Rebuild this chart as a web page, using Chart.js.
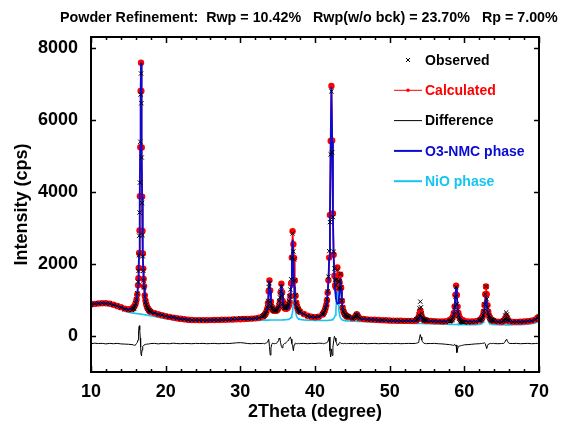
<!DOCTYPE html>
<html>
<head>
<meta charset="utf-8">
<script src="https://cdn.jsdelivr.net/npm/chart.js@4.4.0/dist/chart.umd.min.js"></script>
<style>
  html, body { margin: 0; padding: 0; background: #fff; }
  #wrap { width: 561px; height: 430px; }
</style>
</head>
<body>
<div id="wrap"><canvas id="xrdChart" width="561" height="430"></canvas></div>
<script>
const titleText = 'Powder Refinement:  Rwp = 10.42%   Rwp(w/o bck) = 23.70%   Rp = 7.00%';
const xTicks = [10, 20, 30, 40, 50, 60, 70];
const yTicks = [0, 2000, 4000, 6000, 8000];

const twoTheta = [
  10, 10.5, 11, 11.5, 12, 12.5, 13, 13.5, 14, 14.5, 15, 15.5,
  15.6, 15.7, 15.8, 15.9, 16.0, 16.1, 16.2, 16.3, 16.35, 16.4, 16.45, 16.5, 16.55, 16.6, 16.65, 16.7, 16.75, 16.8, 16.85, 16.9, 16.95, 17.0, 17.05, 17.1, 17.2, 17.3, 17.4, 17.5, 17.6, 17.7, 17.8, 17.9, 18.0,
  18.5, 19, 19.5, 20, 20.5, 21, 21.5, 22, 22.5, 23, 23.5, 24, 24.5, 25, 25.5, 26, 26.5, 27, 27.5, 28, 28.5, 29, 29.5, 30, 30.5, 31, 31.5, 32, 32.5,
  33.0, 33.1, 33.2, 33.3, 33.4, 33.5, 33.6, 33.7, 33.8, 33.9, 34.0, 34.1, 34.2, 34.3, 34.4, 34.5, 34.6, 34.7, 34.8, 34.9,
  35.0, 35.1, 35.2, 35.3, 35.4, 35.5, 35.6, 35.7, 35.8, 35.9, 36.0, 36.1, 36.2, 36.3, 36.4, 36.5, 36.6, 36.7, 36.8, 36.9,
  37.0, 37.1, 37.2, 37.3, 37.4, 37.5, 37.6, 37.7, 37.8, 37.9, 38.0,
  38.5, 39, 39.5, 40, 40.5,
  41.0, 41.1, 41.2, 41.3, 41.4, 41.5, 41.6, 41.7, 41.8, 41.9, 42.0, 42.1, 42.2, 42.3, 42.4, 42.5, 42.6, 42.7, 42.8, 42.9,
  43.0, 43.1, 43.2, 43.3, 43.4, 43.5, 43.6, 43.7, 43.8, 43.9, 44.0, 44.1, 44.2, 44.3, 44.4, 44.5,
  45.0, 45.2, 45.4, 45.5, 45.6, 45.7, 45.8, 46.0, 46.5, 47, 47.5, 48, 48.5, 49, 49.5, 50, 50.5, 51, 51.5, 52, 52.5, 53, 53.5,
  53.6, 53.7, 53.8, 53.9, 54.0, 54.1, 54.2, 54.3, 54.4, 54.5, 54.6, 54.7, 54.8, 54.9, 55.0,
  55.5, 56, 56.5, 57, 57.5,
  58.0, 58.1, 58.2, 58.3, 58.4, 58.5, 58.6, 58.7, 58.8, 58.9, 59.0, 59.1, 59.2, 59.3, 59.4, 59.5, 59.6, 59.7, 59.8, 59.9, 60.0,
  60.5, 61, 61.5, 62, 62.1, 62.2, 62.3, 62.4, 62.5, 62.6, 62.7, 62.8, 62.9, 63.0, 63.1, 63.2, 63.3, 63.4, 63.5, 63.6, 63.7, 63.8, 63.9, 64.0,
  64.5, 65.0, 65.2, 65.3, 65.4, 65.5, 65.6, 65.7, 65.8, 65.9, 66.0,
  66.5, 67, 67.5, 68, 68.5, 69, 69.5, 69.8, 70
];

const observed = [
  870, 900, 903, 915, 897, 899, 862, 837, 790, 745, 720, 720,
  748, 758, 775, 824, 902, 1011, 1185, 1506, 1804, 2238, 2783, 3429, 4257, 5391, 6703, 7287, 6461, 4955, 3689, 2799, 2210, 1811, 1534, 1343, 1095, 951, 860, 801, 760, 721, 704, 677, 670,
  640, 595, 583, 552, 525, 520, 492, 473, 468, 450, 439, 446, 439, 445, 435, 441, 448, 441, 449, 457, 454, 468, 481, 491, 486, 476, 477, 495, 504,
  539, 559, 568, 597, 639, 696, 797, 978, 1361, 1465, 942, 834, 780, 755, 720, 702, 692, 698, 713, 735,
  775, 847, 975, 1072, 1231, 1373, 1095, 900, 820, 786, 772, 777, 800, 836, 895, 974, 1101, 1290, 1576, 2176,
  2848, 2345, 2127, 1541, 1127, 919, 812, 758, 722, 685, 669,
  616, 556, 537, 522, 544,
  600, 617, 658, 709, 778, 876, 1017, 1242, 1648, 2356, 3161, 5041, 6791, 5099, 3300, 2337, 1872, 1552, 1407, 1569,
  1839, 1511, 1335, 1513, 1723, 1339, 983, 788, 688, 643, 600, 580, 553, 544, 539, 525,
  496, 500, 534, 577, 592, 558, 527, 489, 478, 456, 454, 454, 439, 439, 440, 425, 426, 428, 416, 419, 423, 419, 429,
  457, 473, 510, 585, 768, 953, 797, 624, 529, 482, 454, 438, 439, 425, 428,
  416, 415, 401, 394, 391,
  407, 416, 422, 435, 461, 502, 602, 798, 1082, 1359, 889, 665, 559, 479, 435, 407, 394, 388, 384, 383, 383,
  376, 384, 399, 428, 441, 462, 480, 519, 582, 689, 878, 1161, 1375, 1021, 797, 651, 559, 511, 481, 453, 442, 428, 425, 413,
  394, 394, 417, 434, 477, 567, 653, 597, 507, 444, 417,
  392, 397, 390, 400, 415, 421, 455, 505, 530
];

const calculated = [
  875, 890, 903, 910, 907, 894, 867, 832, 800, 760, 740, 750,
  778, 798, 825, 864, 922, 1011, 1155, 1406, 1604, 1888, 2303, 2929, 3877, 5241, 6803, 7587, 6801, 5235, 3869, 2919, 2290, 1871, 1584, 1383, 1125, 976, 880, 816, 770, 736, 709, 687, 670,
  635, 605, 578, 552, 530, 510, 492, 478, 463, 450, 444, 441, 439, 440, 440, 441, 443, 446, 449, 452, 454, 458, 461, 466, 471, 476, 482, 490, 504,
  539, 554, 573, 597, 629, 676, 757, 918, 1241, 1545, 1262, 954, 810, 745, 715, 702, 697, 698, 703, 715,
  735, 767, 825, 952, 1211, 1453, 1215, 960, 840, 786, 762, 757, 760, 776, 805, 854, 941, 1110, 1456, 2176,
  2908, 2545, 2167, 1541, 1117, 919, 817, 758, 717, 690, 669,
  611, 561, 532, 522, 534,
  595, 622, 658, 704, 768, 856, 992, 1202, 1548, 2176, 3361, 5411, 6941, 5429, 3400, 2257, 1672, 1402, 1347, 1569,
  1899, 1541, 1325, 1483, 1703, 1339, 973, 788, 693, 638, 600, 575, 558, 544, 534, 525,
  496, 505, 529, 567, 602, 563, 522, 489, 473, 461, 454, 449, 444, 439, 435, 430, 426, 423, 421, 419, 418, 419, 424,
  447, 458, 480, 525, 618, 703, 617, 524, 479, 457, 444, 438, 434, 430, 428,
  416, 410, 406, 404, 411,
  437, 446, 457, 475, 506, 552, 642, 818, 1142, 1399, 1139, 815, 639, 549, 500, 467, 449, 438, 429, 423, 418,
  406, 404, 409, 433, 441, 457, 480, 514, 572, 674, 858, 1161, 1375, 1161, 857, 671, 569, 511, 476, 453, 437, 428, 420, 413,
  399, 394, 412, 424, 447, 497, 543, 497, 447, 424, 412,
  392, 392, 395, 400, 410, 426, 455, 500, 535
];

const difference = [
  -215, -200, -210, -205, -220, -205, -215, -205, -220, -225, -230, -240,
  -240, -250, -260, -250, -230, -210, -180, -110, -10, 140, 270, 290, 170, -60, -310, -510, -550, -490, -390, -330, -290, -270, -260, -250, -240, -235, -230, -225, -220, -225, -215, -220, -210,
  -205, -220, -205, -210, -215, -200, -210, -215, -205, -210, -215, -205, -210, -205, -215, -210, -205, -215, -210, -205, -210, -200, -190, -185, -195, -210, -215, -205, -210,
  -210, -205, -215, -210, -200, -190, -170, -150, -90, -290, -530, -330, -240, -200, -205, -210, -215, -210, -200, -190,
  -170, -130, -60, -90, -190, -290, -330, -270, -230, -210, -200, -190, -170, -150, -120, -90, -50, -30, -90, -210,
  -270, -410, -250, -210, -200, -210, -215, -210, -205, -215, -210,
  -205, -215, -205, -210, -200,
  -205, -215, -210, -205, -200, -190, -185, -170, -110, -30, -410, -580, -360, -540, -310, -130, -10, -60, -150, -210,
  -270, -240, -200, -180, -190, -210, -200, -210, -215, -205, -210, -205, -215, -210, -205, -210,
  -210, -215, -205, -200, -220, -215, -205, -210, -205, -215, -210, -205, -215, -210, -205, -215, -210, -205, -215, -210, -205, -210, -205,
  -200, -195, -180, -150, -60, 40, -30, -110, -160, -185, -200, -210, -205, -215, -210,
  -210, -205, -215, -220, -230,
  -240, -240, -245, -250, -255, -260, -250, -230, -270, -250, -460, -360, -290, -280, -275, -270, -265, -260, -255, -250, -245,
  -240, -230, -220, -215, -210, -205, -210, -205, -200, -195, -190, -210, -210, -350, -270, -230, -220, -210, -205, -210, -205, -210, -205, -210,
  -215, -210, -205, -200, -180, -140, -100, -110, -150, -190, -205,
  -210, -205, -215, -210, -205, -215, -210, -205, -215
];

const o3nmcPhase = [
  875, 890, 903, 910, 907, 894, 867, 832, 800, 760, 740, 750,
  778, 798, 825, 864, 922, 1011, 1155, 1406, 1604, 1888, 2303, 2929, 3877, 5241, 6803, 7587, 6801, 5235, 3869, 2919, 2290, 1871, 1584, 1383, 1125, 976, 880, 816, 770, 736, 709, 687, 670,
  635, 605, 578, 552, 530, 510, 492, 478, 463, 450, 444, 441, 439, 440, 440, 441, 443, 446, 449, 452, 454, 458, 461, 466, 471, 476, 482, 490, 504,
  538, 553, 572, 596, 628, 675, 756, 917, 1240, 1544, 1260, 952, 808, 743, 713, 700, 695, 696, 701, 713,
  732, 764, 822, 948, 1207, 1448, 1210, 954, 833, 778, 753, 746, 747, 760, 784, 827, 905, 1059, 1380, 2050,
  2670, 2043, 1367, 1039, 879, 793, 741, 707, 681, 663, 648,
  603, 556, 528, 518, 529,
  591, 617, 653, 698, 762, 849, 983, 1192, 1536, 2162, 3344, 5391, 6915, 5396, 3355, 2194, 1576, 1244, 1050, 941,
  899, 913, 1028, 1325, 1607, 1276, 928, 755, 667, 618, 583, 561, 546, 534, 525, 518,
  491, 500, 525, 563, 598, 559, 518, 486, 470, 459, 452, 447, 442, 437, 433, 428, 425, 422, 420, 418, 417, 418, 423,
  435, 441, 453, 477, 527, 572, 526, 476, 452, 440, 432, 429, 427, 425, 424,
  415, 409, 405, 403, 410,
  434, 443, 454, 472, 501, 545, 631, 800, 1111, 1358, 1108, 797, 628, 542, 495, 463, 445, 434, 425, 419, 414,
  405, 402, 405, 423, 430, 442, 460, 486, 531, 609, 745, 961, 1105, 961, 744, 606, 528, 483, 456, 438, 426, 418, 412, 407,
  396, 392, 403, 410, 423, 453, 481, 453, 423, 410, 403,
  392, 392, 395, 400, 410, 426, 455, 500, 535
];

const nioPhase = [
  860, 875, 885, 890, 885, 870, 840, 800, 750, 700, 660, 640,
  637, 634, 631, 628, 625, 622, 620, 617, 616, 615, 614, 612, 611, 610, 608, 607, 606, 604, 603, 602, 601, 598, 596, 594, 590, 587, 583, 580, 576, 572, 568, 564, 560,
  540, 520, 500, 480, 462, 445, 430, 418, 405, 395, 390, 388, 387, 388, 389, 390, 392, 395, 398, 400, 402, 405, 408, 412, 416, 420, 424, 428, 432,
  437, 438, 439, 440, 441, 441, 441, 441, 441, 441, 442, 442, 442, 442, 442, 442, 442, 442, 442, 442,
  443, 443, 443, 444, 444, 445, 445, 446, 447, 448, 449, 451, 453, 456, 461, 467, 476, 491, 516, 566,
  678, 942, 1240, 942, 678, 566, 516, 491, 476, 467, 461,
  446, 440, 436, 434, 433,
  429, 430, 430, 431, 431, 430, 432, 433, 435, 437, 437, 440, 446, 453, 465, 481, 514, 576, 715, 1046,
  1415, 1043, 712, 573, 511, 476, 458, 446, 439, 433, 427, 424, 422, 420, 419, 417,
  410, 409, 408, 407, 407, 406, 406, 403, 400, 395, 391, 387, 383, 379, 375, 370, 366, 363, 360, 357, 354, 351, 349,
  347, 347, 347, 347, 347, 346, 346, 346, 346, 346, 344, 344, 344, 344, 344,
  341, 337, 334, 330, 326,
  322, 322, 322, 322, 322, 319, 319, 319, 319, 319, 316, 316, 316, 316, 316, 314, 314, 314, 314, 314, 314,
  311, 311, 312, 321, 324, 330, 338, 352, 374, 414, 494, 639, 755, 639, 493, 413, 373, 351, 337, 329, 323, 320, 317, 314,
  310, 309, 310, 310, 310, 309, 309, 309, 309, 309, 309,
  310, 312, 315, 320, 328, 340, 360, 390, 420
];

const RED = '#ff0000';
const BLUE = '#0a0ad2';
const CYAN = '#14c4f4';
const FONT = '"Liberation Sans", Arial, sans-serif';

function pts(ys) {
  return twoTheta.map((x, i) => ({ x: x, y: ys[i] }));
}

// frame, inward ticks, title and legend
const decorations = {
  id: 'decorations',
  afterDraw(chart) {
    const { ctx, chartArea: a, scales: { x, y } } = chart;
    ctx.save();
    ctx.strokeStyle = '#000';
    ctx.lineWidth = 2;
    ctx.strokeRect(a.left, a.top, a.right - a.left, a.bottom - a.top);

    ctx.lineWidth = 1.5;
    ctx.beginPath();
    for (let v = xTicks[0]; v <= xTicks[xTicks.length - 1]; v += 2) {
      const px = Math.round(x.getPixelForValue(v)) + 0.5;
      const len = xTicks.includes(v) ? 6 : 3;
      ctx.moveTo(px, a.bottom); ctx.lineTo(px, a.bottom - len);
      ctx.moveTo(px, a.top); ctx.lineTo(px, a.top + len);
    }
    yTicks.forEach(v => {
      const py = Math.round(y.getPixelForValue(v)) + 0.5;
      ctx.moveTo(a.left, py); ctx.lineTo(a.left + 5, py);
      ctx.moveTo(a.right, py); ctx.lineTo(a.right - 5, py);
    });
    ctx.stroke();

    ctx.fillStyle = '#000';
    ctx.font = 'bold 14.3px ' + FONT;
    ctx.textBaseline = 'middle';
    ctx.textAlign = 'left';
    ctx.fillText(titleText, 60, 18);

    // legend
    const rows = [
      { label: 'Observed', color: '#000', text: '#000', kind: 'cross' },
      { label: 'Calculated', color: RED, text: RED, kind: 'linedot' },
      { label: 'Difference', color: '#000', text: '#000', kind: 'line', w: 1 },
      { label: 'O3-NMC phase', color: BLUE, text: BLUE, kind: 'line', w: 2 },
      { label: 'NiO phase', color: CYAN, text: CYAN, kind: 'line', w: 2 }
    ];
    const lx0 = 394, lx1 = 422, tx = 425;
    ctx.font = 'bold 14px ' + FONT;
    rows.forEach((r, i) => {
      const ly = 60 + i * 30.3;
      ctx.strokeStyle = r.color;
      ctx.fillStyle = r.color;
      if (r.kind === 'cross') {
        ctx.lineWidth = 1;
        ctx.beginPath();
        ctx.moveTo(406, ly - 2); ctx.lineTo(410, ly + 2);
        ctx.moveTo(410, ly - 2); ctx.lineTo(406, ly + 2);
        ctx.stroke();
      } else {
        ctx.lineWidth = r.w || 1;
        ctx.beginPath();
        ctx.moveTo(lx0, ly); ctx.lineTo(lx1, ly);
        ctx.stroke();
        if (r.kind === 'linedot') {
          ctx.beginPath();
          ctx.arc(408, ly, 1.8, 0, Math.PI * 2);
          ctx.fill();
        }
      }
      ctx.fillStyle = r.text;
      ctx.fillText(r.label, tx, ly + 1);
    });
    ctx.restore();
  }
};

const tickFont = { family: FONT, size: 18, weight: 'bold' };

new Chart(document.getElementById('xrdChart'), {
  type: 'scatter',
  data: {
    datasets: [
      { label: 'NiO phase', data: pts(nioPhase), showLine: true, borderColor: CYAN, borderWidth: 1.6, pointRadius: 0, order: 5 },
      { label: 'Calculated', data: pts(calculated), showLine: true, borderColor: RED, borderWidth: 1.5, pointRadius: 3.2, pointBackgroundColor: RED, pointBorderWidth: 0, order: 4 },
      { label: 'O3-NMC phase', data: pts(o3nmcPhase), showLine: true, borderColor: BLUE, borderWidth: 1.8, pointRadius: 0, order: 3 },
      { label: 'Observed', data: pts(observed), showLine: false, pointStyle: 'crossRot', pointRadius: 3, pointBorderColor: '#000', pointBorderWidth: 1, order: 2 },
      { label: 'Difference', data: pts(difference), showLine: true, borderColor: '#000', borderWidth: 1, pointRadius: 0, order: 1 }
    ]
  },
  options: {
    responsive: false,
    animation: false,
    devicePixelRatio: 1,
    events: [],
    layout: { padding: { left: 0, right: 22, top: 37, bottom: 0 } },
    plugins: { legend: { display: false }, title: { display: false }, tooltip: { enabled: false } },
    scales: {
      x: {
        type: 'linear', min: 10, max: 70,
        afterBuildTicks: s => { s.ticks = xTicks.map(v => ({ value: v })); },
        afterFit: s => { s.height = 58; },
        grid: { display: false, drawTicks: false },
        border: { display: false },
        ticks: { color: '#000', font: tickFont, padding: 9, maxRotation: 0, callback: v => String(v) },
        title: { display: true, text: '2Theta (degree)', color: '#000', font: tickFont, padding: { top: 0, bottom: 7 } }
      },
      y: {
        type: 'linear', min: -1000, max: 8300,
        afterBuildTicks: s => { s.ticks = yTicks.map(v => ({ value: v })); },
        afterFit: s => { s.width = 91; },
        grid: { display: false, drawTicks: false },
        border: { display: false },
        ticks: { color: '#000', font: tickFont, padding: 13, callback: v => String(v) },
        title: { display: true, text: 'Intensity (cps)', color: '#000', font: tickFont, padding: { top: 11, bottom: 0 } }
      }
    }
  },
  plugins: [decorations]
});
</script>
</body>
</html>
